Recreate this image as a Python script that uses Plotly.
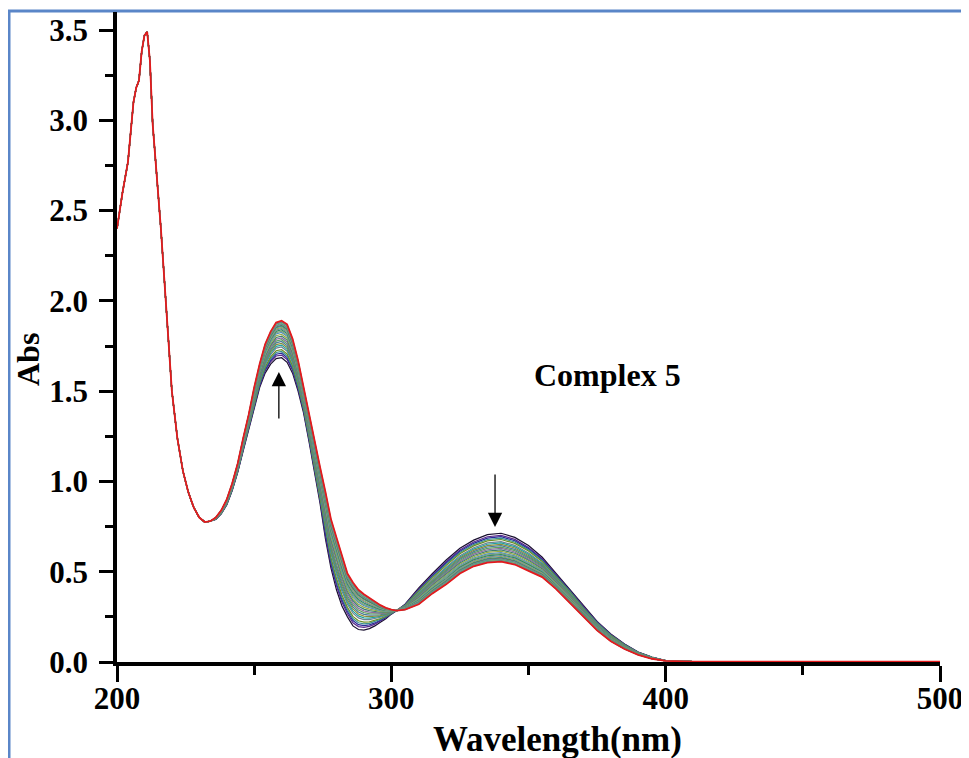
import plotly.graph_objects as go

# ---- data ----
wavelength = [200, 202, 204, 206, 207, 208, 209, 210, 211, 212, 213, 214, 215, 216, 218, 220,
              222, 224, 226, 228, 230, 232, 234, 236, 238, 240, 242, 244, 246, 248, 250, 252,
              254, 256, 258, 260, 262, 264, 266, 268, 270, 272, 274, 276, 278, 280, 282, 284,
              286, 288, 290, 292, 294, 296, 298, 300, 302, 305, 310, 315, 320, 325, 330, 335,
              340, 345, 350, 355, 360, 365, 370, 375, 380, 385, 390, 395, 400, 405, 410, 450, 500]

# first scan (before additions)
abs_initial = [2.40, 2.60, 2.77, 3.10, 3.18, 3.22, 3.38, 3.47, 3.49, 3.33, 2.98, 2.80, 2.61, 2.40, 1.95, 1.50,
               1.24, 1.06, 0.94, 0.855, 0.80, 0.775, 0.78, 0.79, 0.82, 0.87, 0.95, 1.05, 1.17, 1.29, 1.41, 1.52,
               1.60, 1.65, 1.68, 1.685, 1.66, 1.60, 1.50, 1.38, 1.22, 1.05, 0.88, 0.68, 0.52, 0.40, 0.31, 0.25,
               0.20, 0.18, 0.177, 0.185, 0.20, 0.22, 0.24, 0.265, 0.285, 0.32, 0.41, 0.49, 0.565, 0.63, 0.675, 0.705,
               0.713, 0.69, 0.645, 0.58, 0.49, 0.405, 0.31, 0.225, 0.155, 0.10, 0.055, 0.027, 0.008, 0.004, 0.002, 0.002, 0.002]

# last scan (red)
abs_final = [2.40, 2.60, 2.77, 3.10, 3.18, 3.22, 3.38, 3.47, 3.49, 3.33, 2.98, 2.80, 2.61, 2.40, 1.95, 1.50,
             1.24, 1.06, 0.94, 0.855, 0.80, 0.775, 0.78, 0.80, 0.84, 0.90, 0.99, 1.10, 1.24, 1.37, 1.52, 1.65,
             1.76, 1.83, 1.88, 1.89, 1.87, 1.79, 1.67, 1.52, 1.37, 1.21, 1.08, 0.94, 0.79, 0.69, 0.59, 0.49,
             0.44, 0.40, 0.375, 0.355, 0.335, 0.315, 0.30, 0.29, 0.285, 0.29, 0.32, 0.38, 0.43, 0.49, 0.53, 0.55,
             0.556, 0.54, 0.505, 0.47, 0.405, 0.33, 0.25, 0.175, 0.115, 0.072, 0.04, 0.018, 0.006, 0.003, 0.002, 0.002, 0.002]

# absorbance at the 260 nm maximum for each scan of the titration
step_peak260 = [1.685, 1.70, 1.71, 1.72, 1.73, 1.745, 1.755, 1.765, 1.775, 1.785, 1.795, 1.805, 1.815,
                1.825, 1.832, 1.84, 1.847, 1.853, 1.86, 1.865, 1.87, 1.875, 1.88, 1.884, 1.888, 1.89]

line_colors = ["#1A1030", "#5A2A8A", "#2A2A9A", "#3A8F8F", "#6B8E23", "#708090", "#20A0A0", "#8B8B3A",
               "#4A7A9A", "#5F9F5F", "#8A6AA0", "#3F7F6F", "#9AAA40", "#4F8FBF", "#7F9F7F", "#2E8B57",
               "#6A8AAA", "#A0A060", "#3C9C9C", "#5A7A3A", "#7A7AB0", "#40A080", "#8FAF6F", "#507090",
               "#60B0B0", "#E41A1C"]

fig = go.Figure()
p0, p1 = step_peak260[0], step_peak260[-1]
for i, p in enumerate(step_peak260):
    f = (p - p0) / (p1 - p0)
    y = [a + f * (b - a) for a, b in zip(abs_initial, abs_final)]
    last = i == len(step_peak260) - 1
    fig.add_trace(go.Scatter(x=wavelength, y=y, mode="lines",
                             line=dict(color=line_colors[i % len(line_colors)], width=1.8 if last else 1.2),
                             showlegend=False, hoverinfo="skip"))

# page has an 8px body margin; figure coordinates = page coordinates - 8
OFF = 8
W, H = 961, 750
L, R, T, B = 117 - OFF, 29, 12 - OFF, 96
pw, ph = W - L - R, H - T - B

def px(xp):
    return (xp - OFF - L) / pw

def py(yp):
    return (H - B - (yp - OFF)) / ph

tickfont = dict(family="Liberation Serif", size=31, color="black", weight="bold")

fig.update_layout(
    width=W, height=H,
    margin=dict(l=L, r=R, t=T, b=B),
    paper_bgcolor="white", plot_bgcolor="white",
    xaxis=dict(range=[200, 500], tickvals=[200, 300, 400, 500], showline=True, linecolor="black",
               linewidth=3.5, ticks="outside", ticklen=16, tickwidth=3, tickcolor="black",
               showgrid=False, zeroline=False, tickfont=tickfont, ticklabelstandoff=-10,
               minor=dict(ticks="outside", ticklen=9, tickwidth=3, tickcolor="black", dtick=50, showgrid=False)),
    yaxis=dict(range=[0, 3.6], tickvals=[0, 0.5, 1.0, 1.5, 2.0, 2.5, 3.0, 3.5], tickformat=".1f",
               showline=True, linecolor="black", linewidth=3.5, ticks="outside", ticklen=14, tickwidth=3,
               tickcolor="black", showgrid=False, zeroline=False, tickfont=tickfont, ticklabelstandoff=5,
               minor=dict(ticks="outside", ticklen=8, tickwidth=3, tickcolor="black", dtick=0.25, showgrid=False)),
    shapes=[dict(type="rect", xref="paper", yref="paper", x0=px(9), x1=px(966), y0=py(800), y1=py(11),
                 line=dict(color="#5A86C8", width=3), fillcolor="rgba(0,0,0,0)", layer="below")],
    annotations=[
        dict(text="Wavelength(nm)", xref="paper", yref="paper", x=px(557), y=py(739), showarrow=False,
             font=dict(family="Liberation Serif", size=35, color="black", weight="bold"),
             xanchor="center", yanchor="middle"),
        dict(text="Abs", xref="paper", yref="paper", x=px(28), y=py(360), showarrow=False, textangle=-90,
             font=dict(family="Liberation Serif", size=32, color="black", weight="bold"),
             xanchor="center", yanchor="middle"),
        dict(text="Complex 5", xref="paper", yref="paper", x=px(607), y=py(375), showarrow=False,
             font=dict(family="Liberation Serif", size=32, color="black", weight="bold"),
             xanchor="center", yanchor="middle"),
        dict(x=259, y=1.606, ax=259, ay=1.34, xref="x", yref="y", axref="x", ayref="y", text="",
             showarrow=True, arrowhead=2, arrowsize=2.2, arrowwidth=1.3, arrowcolor="black"),
        dict(x=337.8, y=0.748, ax=337.8, ay=1.047, xref="x", yref="y", axref="x", ayref="y", text="",
             showarrow=True, arrowhead=2, arrowsize=2.2, arrowwidth=1.3, arrowcolor="black"),
    ],
)

fig.write_html("out.html")
